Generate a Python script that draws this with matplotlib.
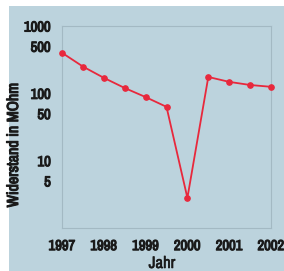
import matplotlib.pyplot as plt
import matplotlib.patheffects as pe
from matplotlib import font_manager
from matplotlib.patches import Rectangle

# Messwerte (Jahr, Widerstand in MOhm)
jahre = [1997, 1997.5, 1998, 1998.5, 1999, 1999.5, 2000, 2000.5, 2001, 2001.5, 2002]
widerstand = [400, 250, 170, 120, 88, 63, 2.8, 175, 148, 133, 125]
x_ticks = [1997, 1998, 1999, 2000, 2001, 2002]
y_ticks = [5, 10, 50, 100, 500, 1000]

bg = '#bcd3dd'
rot = '#e8283c'
text_farbe = '#1a1a1a'

# schmale Schrift suchen (nur regular vorhanden -> mit Kontur etwas fetter machen)
namen = sorted({f.name for f in font_manager.fontManager.ttflist})
schmal = [n for n in namen if 'Narrow' in n or 'Condensed' in n]
schrift = [schmal[0] if schmal else 'Liberation Sans', 'DejaVu Sans']
dick = [pe.withStroke(linewidth=0.8, foreground=text_farbe)]

fig = plt.figure(figsize=(2.84, 2.71), dpi=100)
fig.patch.set_facecolor('white')
fig.patches.append(Rectangle((9/284, 0), 1, 1 - 6/271, transform=fig.transFigure,
                             facecolor=bg, edgecolor='none', zorder=-10))

ax = fig.add_axes([62/284, 1 - 228/271, (271-62)/284, (228-26)/271])
ax.set_facecolor(bg)
ax.plot(jahre, widerstand, '-o', color=rot, lw=1.3, ms=3.8, clip_on=False, zorder=3)
ax.set_yscale('log')
ax.set_xlim(1997, 2002)
ax.set_ylim(1, 1000)
ax.set_xticks(x_ticks)
ax.set_xticklabels([str(t) for t in x_ticks])
ax.set_yticks(y_ticks)
ax.set_yticklabels([str(t) for t in y_ticks])
ax.minorticks_off()
ax.tick_params(length=0, pad=8, labelsize=10.5, labelcolor=text_farbe)
for lab in ax.get_xticklabels() + ax.get_yticklabels():
    lab.set_family(schrift)
    lab.set_path_effects(dick)
for s in ax.spines.values():
    s.set_color('#a3b9c3')
    s.set_linewidth(0.8)

ax.set_xlabel('Jahr', fontsize=12, family=schrift, color=text_farbe,
              path_effects=[pe.withStroke(linewidth=0.4, foreground=text_farbe)])
ax.xaxis.set_label_coords((162-62)/209, -(256-228)/202)
ax.set_ylabel('Widerstand in MOhm', fontsize=11.5, family=schrift, color=text_farbe,
              path_effects=dick)
ax.yaxis.set_label_coords(-(62-21)/209, (228-145)/202)

fig.savefig('out.png', dpi=100, facecolor=fig.get_facecolor())
